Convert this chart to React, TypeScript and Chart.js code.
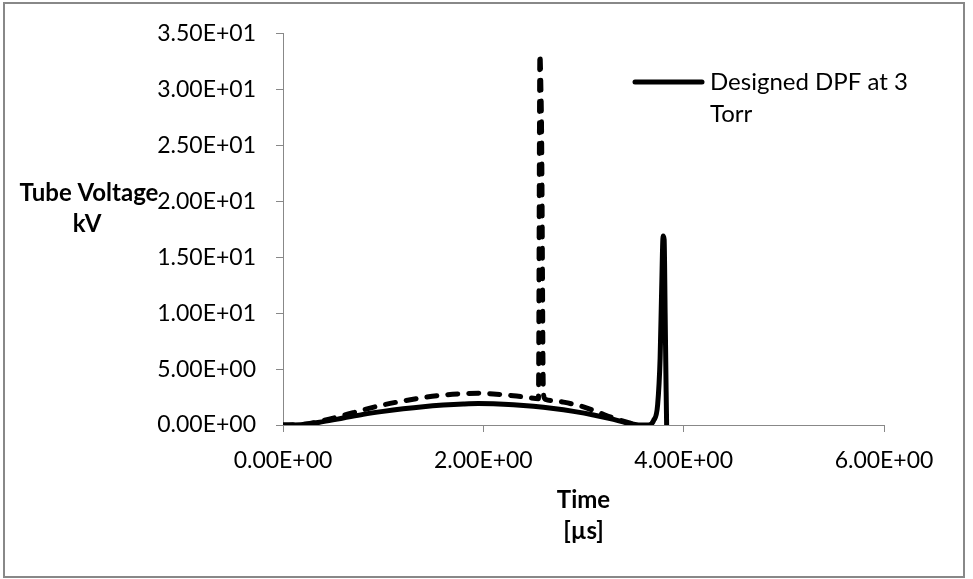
import React, { useEffect, useRef } from "react";
import { Chart, registerables } from "chart.js";

Chart.register(...registerables);

// ---- data ----
const solidTime = [
  0, 0.2, 0.4, 0.6, 0.8, 1.0, 1.2, 1.4, 1.6, 1.8, 1.95, 2.1, 2.3, 2.5, 2.7, 2.9, 3.1, 3.3, 3.45, 3.55, 3.65,
  3.7, 3.74, 3.765, 3.78, 3.795, 3.805, 3.815, 3.825, 3.83,
];
const solidVoltage = [
  0, 0.05, 0.3, 0.62, 0.95, 1.22, 1.45, 1.64, 1.78, 1.88, 1.92, 1.9, 1.82, 1.68, 1.48, 1.22, 0.9, 0.5, 0.15, 0, 0,
  0.4, 1.8, 6.0, 12.0, 16.9, 16.6, 10.0, 3.0, 0,
];
const dashedTime = [
  0, 0.2, 0.4, 0.6, 0.8, 1.0, 1.2, 1.4, 1.6, 1.8, 1.95, 2.1, 2.3, 2.45, 2.55, 2.565, 2.575, 2.58, 2.585, 2.59,
  2.595, 2.6, 2.62, 2.8, 3.0, 3.17, 3.3, 3.45, 3.55,
];
const dashedVoltage = [
  0, 0.05, 0.4, 0.85, 1.35, 1.8, 2.15, 2.45, 2.68, 2.8, 2.83, 2.78, 2.62, 2.45, 2.35, 33.2, 30.0, 27.5, 22.0, 14.0,
  6.0, 2.8, 2.3, 2.05, 1.62, 1.05, 0.62, 0.2, 0,
];
const xTicks = [0, 2, 4, 6];
const yTicks = [0, 5, 10, 15, 20, 25, 30, 35];
const solidLabel = "Designed DPF at 3 Torr";
const legendLines = ["Designed DPF at 3", "Torr"];
const yTitleLines = ["Tube Voltage", "kV"];
const xTitleLines = ["Time", "[µs]"];

const FONT = "Lato, 'DejaVu Sans', sans-serif";

const fmtE = (v: number) => {
  if (v === 0) return "0.00E+00";
  const e = Math.floor(Math.log10(Math.abs(v)) + 1e-9);
  const m = v / Math.pow(10, e);
  const sign = e < 0 ? "-" : "+";
  return m.toFixed(2) + "E" + sign + String(Math.abs(e)).padStart(2, "0");
};

const decorPlugin = {
  id: "decor",
  beforeDraw(chart: any) {
    const ctx = chart.ctx;
    ctx.save();
    ctx.fillStyle = "#ffffff";
    ctx.fillRect(0, 0, chart.width, chart.height);
    ctx.strokeStyle = "#888888";
    ctx.lineWidth = 2;
    ctx.strokeRect(4, 3, 960, 574);
    ctx.restore();
  },
  afterDraw(chart: any) {
    const ctx = chart.ctx;
    const area = chart.chartArea;
    ctx.save();
    ctx.fillStyle = "#000";
    ctx.textBaseline = "middle";
    // y title (horizontal)
    ctx.font = `bold 24px ${FONT}`;
    ctx.textAlign = "center";
    ctx.fillText(yTitleLines[0], 89, 193);
    ctx.fillText(yTitleLines[1], 87, 224);
    // x title
    const cx = (area.left + area.right) / 2;
    ctx.fillText(xTitleLines[0], cx, 500);
    ctx.fillText(xTitleLines[1], cx, 531);
    // legend
    ctx.strokeStyle = "#000";
    ctx.lineWidth = 5;
    ctx.lineCap = "round";
    ctx.beginPath();
    ctx.moveTo(635, 82);
    ctx.lineTo(702, 82);
    ctx.stroke();
    ctx.font = `24px ${FONT}`;
    ctx.textAlign = "left";
    ctx.fillText(legendLines[0], 710, 82);
    ctx.fillText(legendLines[1], 710, 114);
    ctx.restore();
  },
};

export default function App() {
  const ref = useRef<HTMLCanvasElement | null>(null);

  useEffect(() => {
    if (!ref.current) return;
    const chart = new Chart(ref.current, {
      type: "line",
      data: {
        datasets: [
          {
            label: "Dashed",
            data: dashedTime.map((t, i) => ({ x: t, y: dashedVoltage[i] })),
            borderColor: "#000",
            borderWidth: 5,
            borderDash: [10, 11],
            borderCapStyle: "round",
            borderJoinStyle: "round",
            pointRadius: 0,
            cubicInterpolationMode: "monotone",
            fill: false,
          },
          {
            label: solidLabel,
            data: solidTime.map((t, i) => ({ x: t, y: solidVoltage[i] })),
            borderColor: "#000",
            borderWidth: 5,
            borderCapStyle: "round",
            borderJoinStyle: "round",
            pointRadius: 0,
            cubicInterpolationMode: "monotone",
            fill: false,
          },
        ],
      },
      options: {
        animation: false,
        responsive: false,
        devicePixelRatio: 1,
        layout: { padding: { left: 0, top: 32, right: 89, bottom: 0 } },
        plugins: { legend: { display: false }, tooltip: { enabled: false } },
        scales: {
          x: {
            type: "linear",
            min: 0,
            max: 6,
            afterBuildTicks: (s: any) => {
              s.ticks = xTicks.map((v) => ({ value: v }));
            },
            afterFit: (s: any) => {
              s.height = 154;
            },
            ticks: {
              callback: (v: any) => fmtE(Number(v)),
              font: { family: FONT, size: 23 },
              color: "#000",
              padding: 15,
              maxRotation: 0,
              autoSkip: false,
            },
            grid: { display: true, drawOnChartArea: false, drawTicks: true, tickLength: 7, color: "#888888" },
            border: { display: true, color: "#888888", width: 1 },
          },
          y: {
            type: "linear",
            min: 0,
            max: 35,
            afterBuildTicks: (s: any) => {
              s.ticks = yTicks.map((v) => ({ value: v }));
            },
            afterFit: (s: any) => {
              s.width = 283;
            },
            ticks: {
              callback: (v: any) => fmtE(Number(v)),
              font: { family: FONT, size: 23 },
              color: "#000",
              padding: 20,
              autoSkip: false,
            },
            grid: { display: true, drawOnChartArea: false, drawTicks: true, tickLength: 7, color: "#888888" },
            border: { display: true, color: "#888888", width: 1 },
          },
        },
      },
      plugins: [decorPlugin],
    } as any);
    return () => chart.destroy();
  }, []);

  return (
    <div style={{ position: "absolute", left: 0, top: 0, width: 973, height: 579, background: "#fff" }}>
      <canvas ref={ref} width={973} height={579} style={{ display: "block" }} />
    </div>
  );
}
